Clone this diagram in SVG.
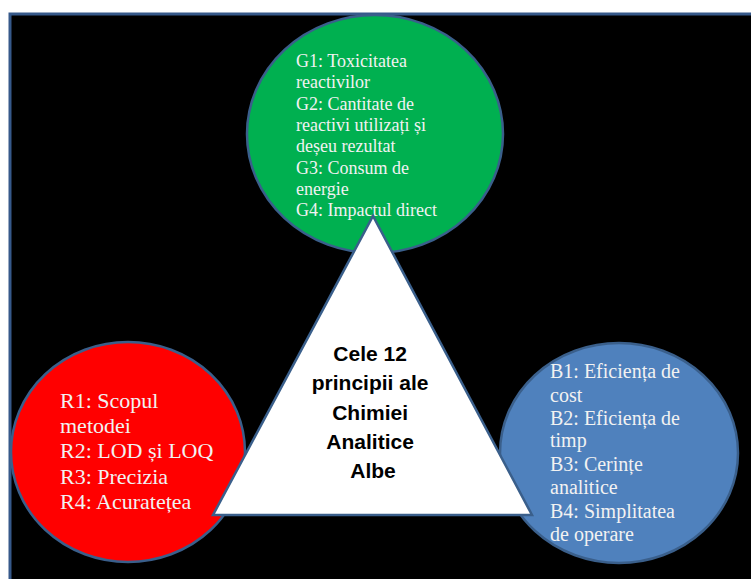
<svg xmlns="http://www.w3.org/2000/svg" width="751" height="579" viewBox="0 0 751 579">
  <style>
    .node { stroke: #3a5f8b; stroke-width: 2.5; }
    .lbl { font-family: "Liberation Serif", "DejaVu Serif", serif; fill: #f2f2f2; }
    .center { font-family: "Liberation Sans", Arial, sans-serif; font-weight: bold; font-size: 21px; fill: #000; text-anchor: middle; }
  </style>
  <rect x="0" y="0" width="751" height="579" fill="#ffffff"/>
  <rect id="frame" x="10" y="14" width="760" height="600" fill="#000000" stroke="#36598a" stroke-width="3"/>

  <g id="green">
    <ellipse class="node" cx="375" cy="134" rx="128" ry="119" fill="#00b050"/>
    <text class="lbl" font-size="18" x="296">
      <tspan x="296" y="67">G1: Toxicitatea</tspan>
      <tspan x="296" y="88">reactivilor</tspan>
      <tspan x="296" y="109.5">G2: Cantitate de</tspan>
      <tspan x="296" y="131">reactivi utilizați și</tspan>
      <tspan x="296" y="152">deșeu rezultat</tspan>
      <tspan x="296" y="173.5">G3: Consum de</tspan>
      <tspan x="296" y="194.5">energie</tspan>
      <tspan x="296" y="215.5">G4: Impactul direct</tspan>
    </text>
  </g>

  <g id="red">
    <ellipse class="node" cx="128" cy="452" rx="117" ry="110" fill="#ff0000"/>
    <text class="lbl" font-size="22" x="60">
      <tspan x="60" y="408">R1: Scopul</tspan>
      <tspan x="60" y="433">metodei</tspan>
      <tspan x="60" y="458">R2: LOD și LOQ</tspan>
      <tspan x="60" y="483.5">R3: Precizia</tspan>
      <tspan x="60" y="508.5">R4: Acuratețea</tspan>
    </text>
  </g>

  <g id="blue">
    <ellipse class="node" cx="619" cy="453" rx="119" ry="110" fill="#4f81bd"/>
    <text class="lbl" font-size="20" x="550">
      <tspan x="550" y="378">B1: Eficiența de</tspan>
      <tspan x="550" y="401.5">cost</tspan>
      <tspan x="550" y="425">B2: Eficiența de</tspan>
      <tspan x="550" y="447">timp</tspan>
      <tspan x="550" y="470.5">B3: Cerințe</tspan>
      <tspan x="550" y="494">analitice</tspan>
      <tspan x="550" y="518">B4: Simplitatea</tspan>
      <tspan x="550" y="541">de operare</tspan>
    </text>
  </g>

  <g id="triangle">
    <polygon class="node" points="373,216 532,515 213,515" fill="#ffffff"/>
    <text class="center">
      <tspan x="373" y="361">Cele 12</tspan>
      <tspan x="373" y="390">principii ale</tspan>
      <tspan x="373" y="419.5">Chimiei</tspan>
      <tspan x="373" y="449">Analitice</tspan>
      <tspan x="373" y="478">Albe</tspan>
    </text>
  </g>

  <g id="connectors"></g>
</svg>
